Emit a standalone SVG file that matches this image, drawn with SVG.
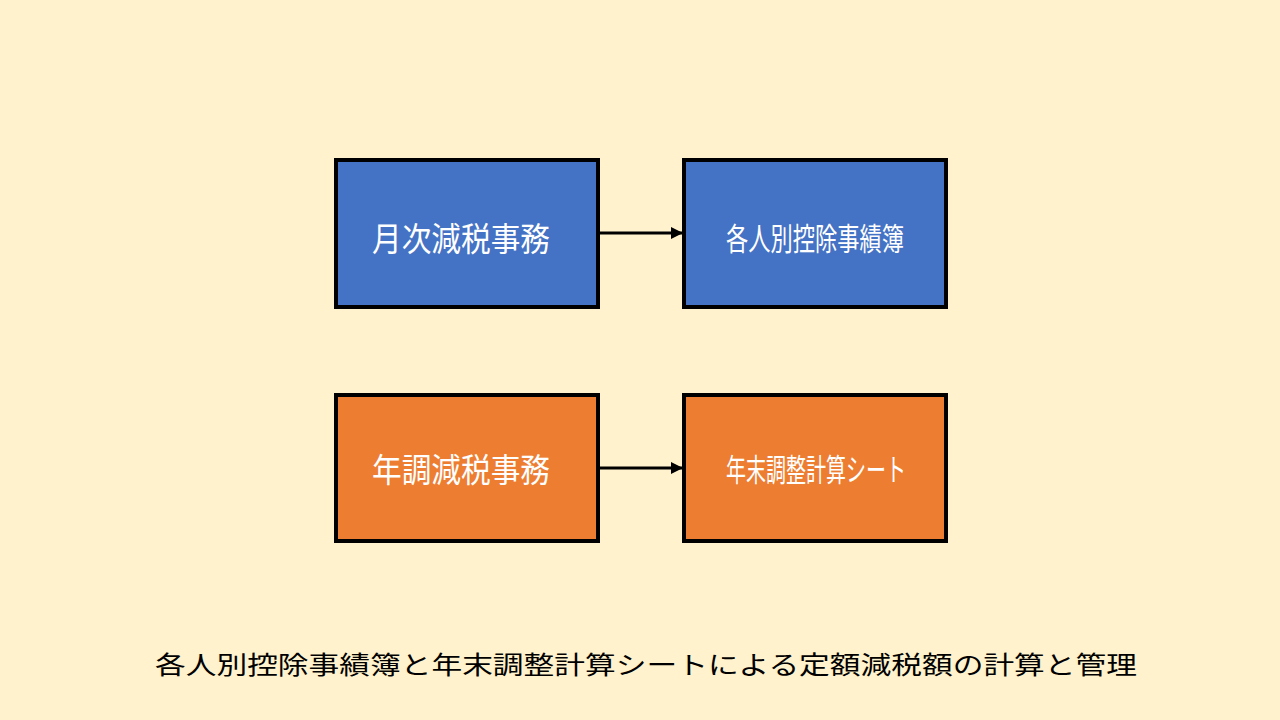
<svg xmlns="http://www.w3.org/2000/svg" width="1280" height="720" viewBox="0 0 1280 720">
<style>
.box{stroke:#000;stroke-width:4}
.blue{fill:#4472C4}
.orange{fill:#ED7D31}
.lbl{font-family:"Noto Sans CJK JP","Noto Sans CJK SC",sans-serif;fill:#fff;text-anchor:middle;dominant-baseline:central}
.cap{font-family:"Noto Sans CJK JP","Noto Sans CJK SC",sans-serif;fill:#000;font-size:25px;dominant-baseline:central}
.conn{stroke:#000;stroke-width:3;fill:none}
</style>
<defs>
<marker id="arr" viewBox="0 0 10 10" refX="10" refY="5" markerWidth="4" markerHeight="4" orient="auto" markerUnits="strokeWidth">
<path d="M0,0 L10,5 L0,10 z" fill="#000"/>
</marker>
</defs>
<rect width="1280" height="720" fill="#FFF2CC"/>
<g id="node-monthly">
<rect class="box blue" x="336" y="160" width="262" height="147"/>
<text class="lbl" transform="translate(461,236) scale(1,1.08)" x="0" y="0" font-size="31" textLength="178" lengthAdjust="spacingAndGlyphs">月次減税事務</text>
</g>
<g id="node-ledger">
<rect class="box blue" x="684" y="160" width="262" height="147"/>
<text class="lbl" transform="translate(815,236) scale(1,1.2)" x="0" y="0" font-size="26" textLength="178" lengthAdjust="spacingAndGlyphs">各人別控除事績簿</text>
</g>
<g id="node-yearend">
<rect class="box orange" x="336" y="395" width="262" height="146"/>
<text class="lbl" transform="translate(461,467) scale(1,1.08)" x="0" y="0" font-size="31" textLength="178" lengthAdjust="spacingAndGlyphs">年調減税事務</text>
</g>
<g id="node-sheet">
<rect class="box orange" x="684" y="395" width="262" height="146"/>
<text class="lbl" transform="translate(816,467) scale(1,1.2)" x="0" y="0" font-size="26" textLength="180" lengthAdjust="spacingAndGlyphs">年末調整計算シート</text>
</g>
<g id="connectors">
<line class="conn" x1="598" y1="233" x2="683" y2="233" marker-end="url(#arr)"/>
<line class="conn" x1="598" y1="468" x2="683" y2="468" marker-end="url(#arr)"/>
</g>
<g id="caption">
<text class="cap" x="155" y="663" textLength="982" lengthAdjust="spacingAndGlyphs">各人別控除事績簿と年末調整計算シートによる定額減税額の計算と管理</text>
</g>
</svg>
